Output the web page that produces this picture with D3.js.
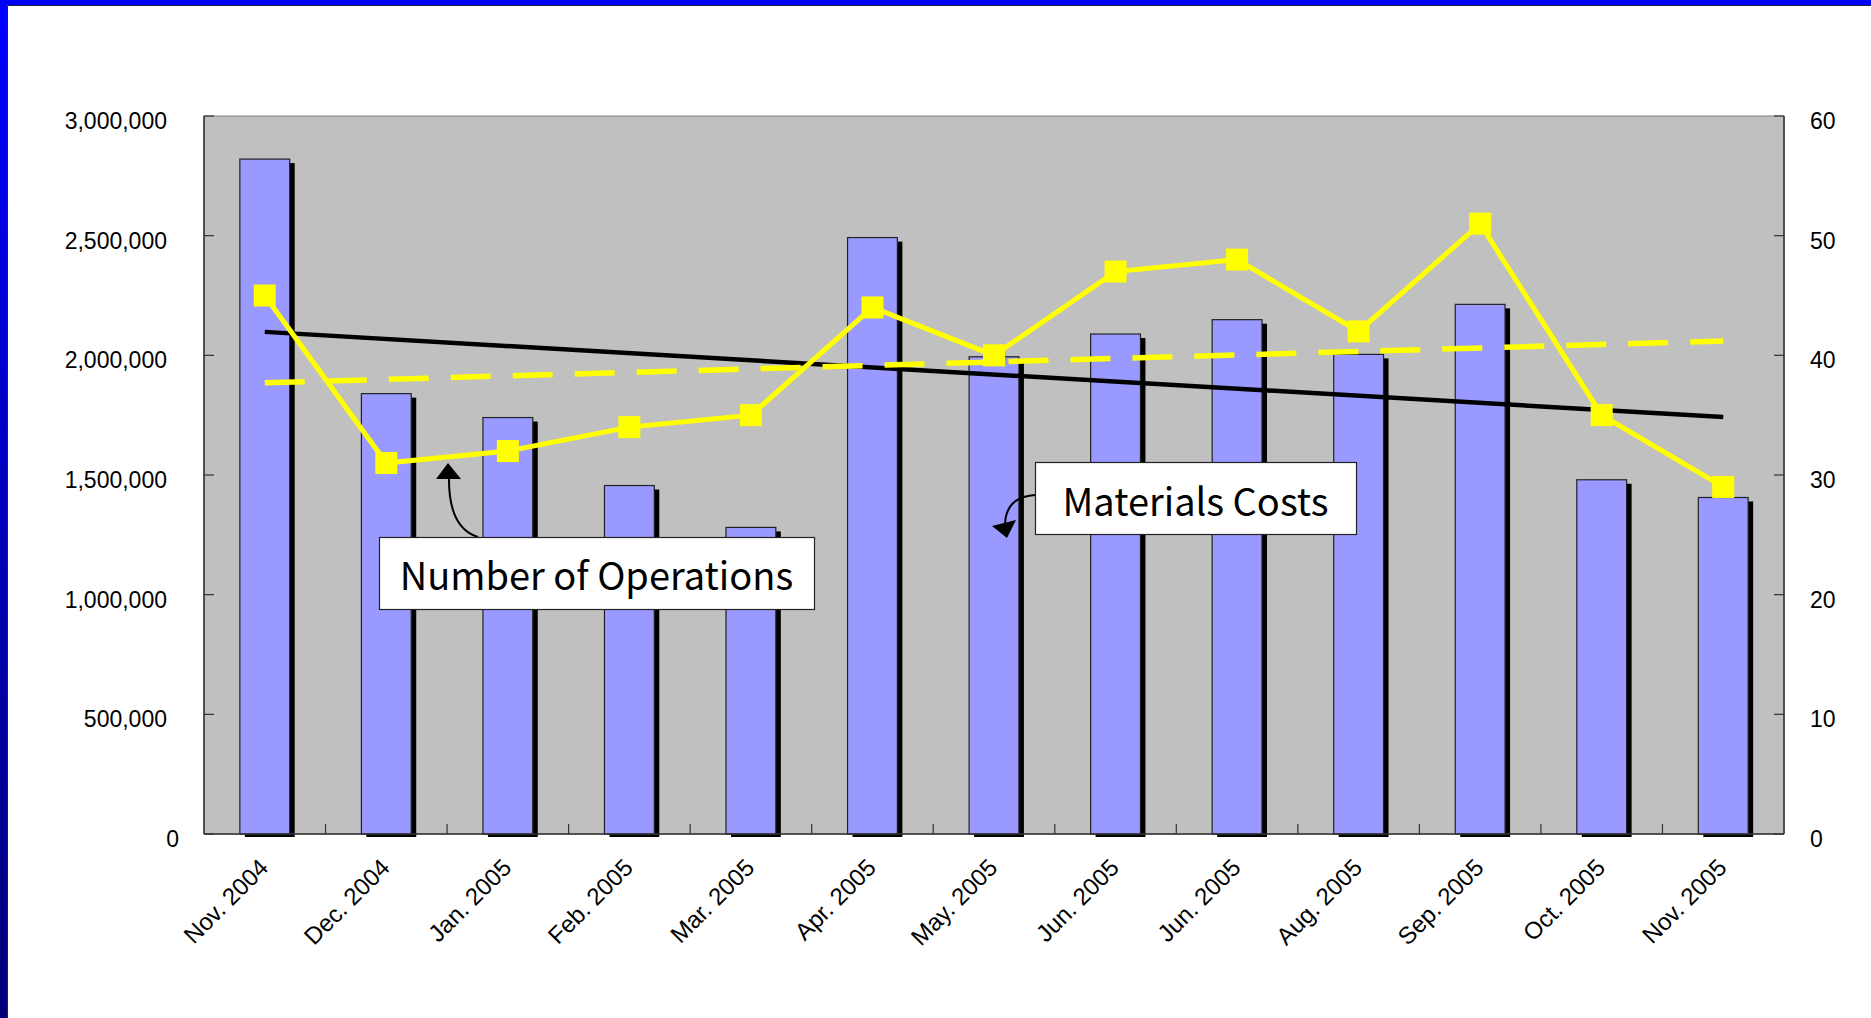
<!DOCTYPE html>
<html>
<head>
<meta charset="utf-8">
<script src="https://cdn.jsdelivr.net/npm/d3@7"></script>
<style>
    body { margin: 0; background: #ffffff; overflow: hidden; }
    svg { display: block; }
</style>
</head>
<body>
<div id="chart"></div>
<script>
// Chart data
const months = ['Nov. 2004', 'Dec. 2004', 'Jan. 2005', 'Feb. 2005', 'Mar. 2005', 'Apr. 2005',
    'May. 2005', 'Jun. 2005', 'Jun. 2005 ', 'Aug. 2005', 'Sep. 2005', 'Oct. 2005', 'Nov. 2005'];
const materialsCosts = [2820000, 1840000, 1740000, 1456000, 1281000, 2492000,
    1994000, 2089000, 2149000, 2004000, 2213000, 1480000, 1406000];
const operations = [45, 31, 32, 34, 35, 44, 40, 47, 48, 42, 51, 35, 29];
// trendline start / end values
const costTrend = [2098000, 1742000];
const operationsTrend = [37.7, 41.2];
const leftTicks = [0, 500000, 1000000, 1500000, 2000000, 2500000, 3000000];
const rightTicks = [0, 10, 20, 30, 40, 50, 60];

const width = 1871;
const height = 1018;
const plot = { left: 204, right: 1784, top: 116, bottom: 834 };
const tickFont = '"Liberation Sans", Arial, sans-serif';
const noteFont = '"Noto Sans CJK JP", "Noto Sans", sans-serif';

const svg = d3.select('#chart')
    .append('svg')
    .attr('width', width)
    .attr('height', height);

// Slide frame (blue border top and left)
const defs = svg.append('defs');
const grad = defs.append('linearGradient')
    .attr('id', 'frameGrad')
    .attr('x1', 0).attr('y1', 0).attr('x2', 0).attr('y2', 1);
grad.append('stop').attr('offset', '0%').attr('stop-color', '#0000ff');
grad.append('stop').attr('offset', '100%').attr('stop-color', '#000078');

svg.append('rect')
    .attr('x', 0).attr('y', 0)
    .attr('width', width).attr('height', 5)
    .attr('fill', '#0000ff');
svg.append('rect')
    .attr('x', 0).attr('y', 0)
    .attr('width', 7).attr('height', height)
    .attr('fill', 'url(#frameGrad)');
svg.append('path')
    .attr('d', `M ${width} 5.5 H 7.5 V ${height}`)
    .attr('fill', 'none')
    .attr('stroke', '#202040')
    .attr('stroke-width', 1);

// Scales
const x = d3.scaleBand()
    .domain(d3.range(months.length))
    .range([plot.left, plot.right])
    .padding(0);
const yLeft = d3.scaleLinear()
    .domain([0, 3000000])
    .range([plot.bottom, plot.top]);
const yRight = d3.scaleLinear()
    .domain([0, 60])
    .range([plot.bottom, plot.top]);

const cx = i => x(i) + x.bandwidth() / 2;
const barWidth = x.bandwidth() * 0.41;

// Plot area
svg.append('rect')
    .attr('x', plot.left)
    .attr('y', plot.top)
    .attr('width', plot.right - plot.left)
    .attr('height', plot.bottom - plot.top)
    .attr('fill', '#c0c0c0')
    .attr('stroke', '#808080')
    .attr('stroke-width', 1);

// Bar shadows
svg.append('clipPath')
    .attr('id', 'shadowClip')
    .append('rect')
    .attr('x', plot.left)
    .attr('y', plot.top)
    .attr('width', plot.right - plot.left)
    .attr('height', plot.bottom - plot.top + 3);

svg.append('g')
    .attr('clip-path', 'url(#shadowClip)')
    .selectAll('rect')
    .data(materialsCosts)
    .enter()
    .append('rect')
    .attr('x', (d, i) => cx(i) - barWidth / 2 + 5)
    .attr('y', d => yLeft(d) + 4)
    .attr('width', barWidth)
    .attr('height', d => plot.bottom - yLeft(d))
    .attr('fill', '#000000');

// Bars
svg.append('g')
    .selectAll('rect')
    .data(materialsCosts)
    .enter()
    .append('rect')
    .attr('x', (d, i) => cx(i) - barWidth / 2)
    .attr('y', d => yLeft(d))
    .attr('width', barWidth)
    .attr('height', d => plot.bottom - yLeft(d))
    .attr('fill', '#9999ff')
    .attr('stroke', '#222222')
    .attr('stroke-width', 1.2);

// Axes lines
svg.append('line')
    .attr('x1', plot.left).attr('y1', plot.top)
    .attr('x2', plot.left).attr('y2', plot.bottom)
    .attr('stroke', '#333333').attr('stroke-width', 1.5);
svg.append('line')
    .attr('x1', plot.right).attr('y1', plot.top)
    .attr('x2', plot.right).attr('y2', plot.bottom)
    .attr('stroke', '#333333').attr('stroke-width', 1.5);
svg.append('line')
    .attr('x1', plot.left).attr('y1', plot.bottom)
    .attr('x2', plot.right).attr('y2', plot.bottom)
    .attr('stroke', '#333333').attr('stroke-width', 1.5);

// Left axis ticks and labels
const fmt = d3.format(',');
svg.append('g')
    .selectAll('line')
    .data(leftTicks)
    .enter()
    .append('line')
    .attr('x1', plot.left).attr('x2', plot.left + 10)
    .attr('y1', d => yLeft(d)).attr('y2', d => yLeft(d))
    .attr('stroke', '#333333').attr('stroke-width', 1.2);
svg.append('g')
    .selectAll('text')
    .data(leftTicks)
    .enter()
    .append('text')
    .attr('x', d => d === 0 ? 179 : 167)
    .attr('y', d => yLeft(d) + 13)
    .attr('text-anchor', 'end')
    .attr('font-family', tickFont)
    .attr('font-size', 23)
    .attr('fill', '#000000')
    .text(d => fmt(d));

// Right axis ticks and labels
svg.append('g')
    .selectAll('line')
    .data(rightTicks)
    .enter()
    .append('line')
    .attr('x1', plot.right - 10).attr('x2', plot.right)
    .attr('y1', d => yRight(d)).attr('y2', d => yRight(d))
    .attr('stroke', '#333333').attr('stroke-width', 1.2);
svg.append('g')
    .selectAll('text')
    .data(rightTicks)
    .enter()
    .append('text')
    .attr('x', 1810)
    .attr('y', d => yRight(d) + 13)
    .attr('text-anchor', 'start')
    .attr('font-family', tickFont)
    .attr('font-size', 23)
    .attr('fill', '#000000')
    .text(d => d);

// Category ticks (between bands)
svg.append('g')
    .selectAll('line')
    .data(d3.range(1, months.length))
    .enter()
    .append('line')
    .attr('x1', d => x(d)).attr('x2', d => x(d))
    .attr('y1', plot.bottom - 10).attr('y2', plot.bottom)
    .attr('stroke', '#333333').attr('stroke-width', 1.2);

// Category labels
svg.append('g')
    .selectAll('text')
    .data(months)
    .enter()
    .append('text')
    .attr('transform', (d, i) => `translate(${cx(i) + 5}, 869) rotate(-45)`)
    .attr('text-anchor', 'end')
    .attr('font-family', tickFont)
    .attr('font-size', 24)
    .attr('fill', '#000000')
    .text(d => d.trim());

// Trendlines
svg.append('line')
    .attr('x1', cx(0)).attr('y1', yLeft(costTrend[0]))
    .attr('x2', cx(months.length - 1)).attr('y2', yLeft(costTrend[1]))
    .attr('stroke', '#000000')
    .attr('stroke-width', 4.5);
svg.append('line')
    .attr('x1', cx(0)).attr('y1', yRight(operationsTrend[0]))
    .attr('x2', cx(months.length - 1)).attr('y2', yRight(operationsTrend[1]))
    .attr('stroke', '#ffff00')
    .attr('stroke-width', 5.5)
    .attr('stroke-dasharray', '40 22');

// Number of operations line
const line = d3.line()
    .x((d, i) => cx(i))
    .y(d => yRight(d));
svg.append('path')
    .datum(operations)
    .attr('d', line)
    .attr('fill', 'none')
    .attr('stroke', '#ffff00')
    .attr('stroke-width', 5);
svg.append('g')
    .selectAll('rect')
    .data(operations)
    .enter()
    .append('rect')
    .attr('x', (d, i) => cx(i) - 11)
    .attr('y', d => yRight(d) - 11)
    .attr('width', 22)
    .attr('height', 22)
    .attr('fill', '#ffff00');

// Callouts
function arrowHead(points) {
    svg.append('polygon')
        .attr('points', points.map(p => p.join(',')).join(' '))
        .attr('fill', '#000000');
}

svg.append('path')
    .attr('d', 'M 478 537 Q 448 528 449 476')
    .attr('fill', 'none')
    .attr('stroke', '#000000')
    .attr('stroke-width', 2);
arrowHead([[448, 463], [436, 479], [461, 479]]);

svg.append('path')
    .attr('d', 'M 1035 495 Q 1006 497 1005 524')
    .attr('fill', 'none')
    .attr('stroke', '#000000')
    .attr('stroke-width', 2);
arrowHead([[1007, 538], [992, 526], [1016, 520]]);

const notes = [
    { text: 'Number of Operations', x: 379, y: 537, w: 435, h: 72, baseline: 590 },
    { text: 'Materials Costs', x: 1035, y: 462, w: 321, h: 72, baseline: 516 }
];
notes.forEach(n => {
    svg.append('rect')
        .attr('x', n.x + 0.5)
        .attr('y', n.y + 0.5)
        .attr('width', n.w)
        .attr('height', n.h)
        .attr('fill', '#ffffff')
        .attr('stroke', '#222222')
        .attr('stroke-width', 1.2);
    svg.append('text')
        .attr('x', n.x + n.w / 2)
        .attr('y', n.baseline)
        .attr('text-anchor', 'middle')
        .attr('font-family', noteFont)
        .attr('font-size', 38)
        .attr('fill', '#000000')
        .text(n.text);
});
</script>
</body>
</html>
